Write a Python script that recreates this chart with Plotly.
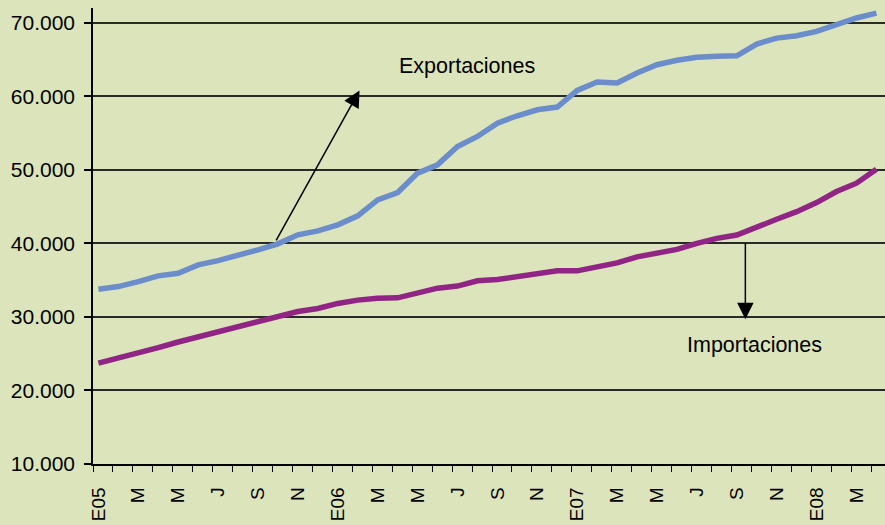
import plotly.graph_objects as go

# Monthly series, Jan 2005 - Apr 2008
months = ['E05', 'F', 'M', 'A', 'M', 'J', 'J', 'A', 'S', 'O', 'N', 'D',
          'E06', 'F', 'M', 'A', 'M', 'J', 'J', 'A', 'S', 'O', 'N', 'D',
          'E07', 'F', 'M', 'A', 'M', 'J', 'J', 'A', 'S', 'O', 'N', 'D',
          'E08', 'F', 'M', 'A']

exportaciones = [33770, 34120, 34800, 35580, 35940, 37070, 37660, 38340, 39120, 39930,
                 41160, 41700, 42520, 43740, 45920, 46910, 49550, 50680, 53170, 54530,
                 56350, 57350, 58160, 58530, 60790, 61930, 61800, 63160, 64290, 64900,
                 65300, 65450, 65500, 67100, 67910, 68230, 68820, 69730, 70640, 71310]

importaciones = [23720, 24360, 25090, 25820, 26590, 27270, 27910, 28640, 29320, 30050,
                 30730, 31140, 31830, 32280, 32550, 32590, 33270, 33910, 34190, 34910,
                 35090, 35440, 35900, 36260, 36260, 36730, 37350, 38170, 38640, 39180,
                 40000, 40680, 41130, 42260, 43270, 44310, 45540, 47040, 48180, 50090]

y_ticks = [10000, 20000, 30000, 40000, 50000, 60000, 70000]

FONT = 'Liberation Sans, Arial, Helvetica, sans-serif'
idx = list(range(len(months)))
shift = 0.27  # tick marks sit a little left of each point

fig = go.Figure()
fig.add_trace(go.Scatter(x=idx, y=exportaciones, mode='lines', name='Exportaciones',
                         line=dict(color='#6b8dcc', width=5.5)))
fig.add_trace(go.Scatter(x=idx, y=importaciones, mode='lines', name='Importaciones',
                         line=dict(color='#902585', width=5.5)))

# arrows + labels
fig.add_annotation(x=13.09, y=60790, ax=8.87, ay=40200, xref='x', yref='y', axref='x', ayref='y',
                   text='', showarrow=True, arrowhead=2, arrowsize=2.2, arrowwidth=1.5,
                   arrowcolor='black')
fig.add_annotation(x=18.48, y=64150, text='Exportaciones', showarrow=False,
                   font=dict(family=FONT, size=21.5, color='black'))
fig.add_annotation(x=32.43, y=29690, ax=32.43, ay=40245, xref='x', yref='y', axref='x', ayref='y',
                   text='', showarrow=True, arrowhead=2, arrowsize=2.2, arrowwidth=1.5,
                   arrowcolor='black')
fig.add_annotation(x=32.91, y=26190, text='Importaciones', showarrow=False,
                   font=dict(family=FONT, size=21.5, color='black'))

fig.update_layout(
    width=885, height=525,
    margin=dict(l=93, r=0, t=8, b=61),
    paper_bgcolor='#dce4bb', plot_bgcolor='#dce4bb',
    showlegend=False,
    separators=',.',
    font=dict(family=FONT, color='black'),
    xaxis=dict(
        range=[-shift, -shift + 792 / 19.95],
        tickmode='array', tickvals=idx[::2], ticktext=months[::2],
        tickangle=-90, ticks='', ticklabelstandoff=14,
        tickfont=dict(size=19, color='black'),
        showgrid=False, zeroline=False, automargin=False,
        showline=True, linecolor='black', linewidth=1.5,
        minor=dict(tickmode='array', tickvals=[k - shift for k in range(41)],
                   ticks='outside', ticklen=6, tickcolor='black', tickwidth=1.2),
    ),
    yaxis=dict(
        range=[10000, 72000],
        tickmode='array', tickvals=y_ticks, tickformat=',d',
        ticks='outside', ticklen=7, tickcolor='black', tickwidth=1.5,
        ticklabelstandoff=5,
        tickfont=dict(size=21, color='black'),
        showgrid=True, gridcolor='#2a2a2a', gridwidth=1.5, automargin=False,
        zeroline=False, showline=True, linecolor='black', linewidth=1.5,
    ),
)

# drop the browser's default 8px body margin so the figure fills the window
fig.write_html('out.html', config={'displayModeBar': False},
               post_script="document.body.style.margin='0';")
